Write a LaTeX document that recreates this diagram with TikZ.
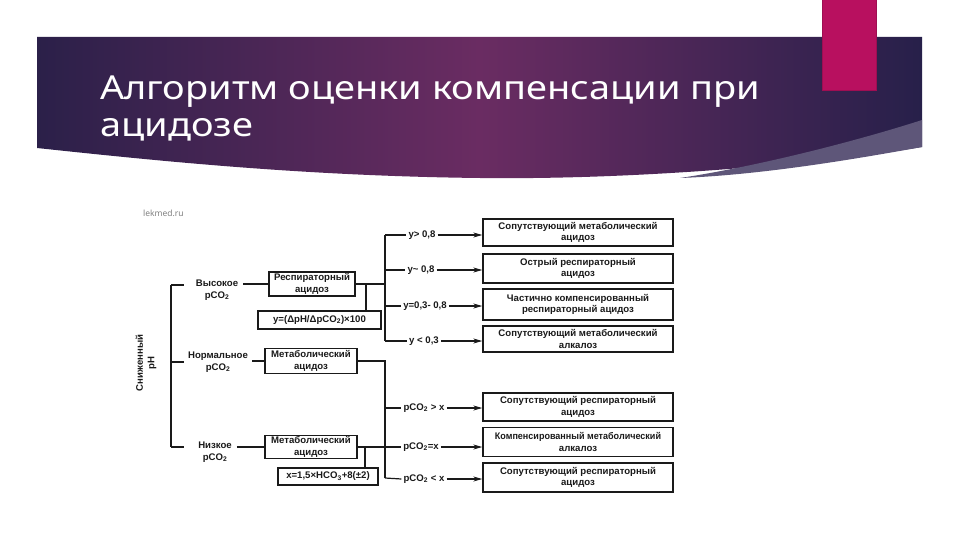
\documentclass[tikz,border=0pt]{standalone}
\usepackage{fontspec}
\setmainfont{Liberation Sans}
\newfontfamily\titlefont{Noto Sans}
\usetikzlibrary{arrows.meta}
\definecolor{bnL}{HTML}{2B2049}
\definecolor{bnM}{HTML}{6A2C62}
\definecolor{bnR}{HTML}{27204A}
\definecolor{bandc}{HTML}{5E5679}
\definecolor{pinkc}{HTML}{B8105F}
\definecolor{pinkd}{HTML}{9E0E52}
\definecolor{ink}{HTML}{1A1A1A}
\newcommand\dfs{\bfseries\fontsize{9.6}{11.4}\selectfont}
\tikzset{
  box/.style={draw=ink, line width=1.4pt, align=center, font=\dfs, text=ink, inner sep=1pt},
  lbl/.style={align=center, font=\dfs, text=ink, inner sep=2pt},
  conn/.style={draw=ink, line width=1.2pt},
  arr/.style={draw=ink, line width=1.1pt, -{Stealth[length=9pt,width=5pt]}},
}
\begin{document}
\begin{tikzpicture}[x=1pt,y=-1pt]
\useasboundingbox (0,0) rectangle (960,540);
\fill[white] (0,0) rectangle (960,540);
% banner
\path[left color=bnL, right color=bnR, middle color=bnM]
  (37,37) -- (922,37) -- (922,147)
  .. controls (830,162) and (650,180) .. (480,178)
  .. controls (300,176) and (150,160) .. (37,148) -- cycle;
\fill[bandc] (922,120) .. controls (860,140) and (760,166) .. (680,178)
  .. controls (760,175) and (850,160) .. (922,147) -- cycle;
\fill[pinkc] (822,0) rectangle (876,90);
\draw[pinkd, line width=0.8pt] (822,0) -- (822,90) -- (876,90) -- (876,0);
\node[anchor=base west, text=white, font=\titlefont\fontsize{33}{38}\selectfont, inner sep=0pt] (T1) at (100,100) {\scalebox{1.15}[1]{Алгоритм оценки компенсации при}};
\node[anchor=base west, text=white, font=\titlefont\fontsize{33}{38}\selectfont, inner sep=0pt] (T2) at (100,137) {\scalebox{1.15}[1]{ацидозе}};
\node[anchor=base west, text=gray, font=\titlefont\fontsize{8.5}{9}\selectfont, inner sep=0pt] (src) at (143,216) {lekmed.ru};

% left column
\node[lbl, rotate=90] (pH) at (146,363) {Сниженный\\pH};
\coordinate (mt) at (171,285);
\coordinate (mm) at (171,362);
\coordinate (mb) at (171,447);
\draw[conn] (mt) -- (mb);
\draw[conn] (mt) -- ++(13,0);
\draw[conn] (mm) -- ++(13,0);
\draw[conn] (mb) -- ++(13,0);
\node[lbl] (V) at (217,290) {Высокое\\pCO\textsubscript{2}};
\node[lbl] (N) at (218,362) {Нормальное\\pCO\textsubscript{2}};
\node[lbl] (Lo) at (215,452) {Низкое\\pCO\textsubscript{2}};

\node[box, minimum width=86pt, minimum height=24pt] (L1) at (312,284) {Респираторный\\ацидоз};
\node[box, minimum width=123pt, minimum height=18pt] (F1) at (319.5,320) {y=(ΔpH/ΔpCO\textsubscript{2})×100};
\node[box, minimum width=92pt, minimum height=25pt] (L2) at (311,361) {Метаболический\\ацидоз};
\node[box, minimum width=92pt, minimum height=23pt] (L3) at (311,447) {Метаболический\\ацидоз};
\node[box, minimum width=100pt, minimum height=17pt] (F2) at (328,476.5) {x=1,5×HCO\textsubscript{3}+8(±2)};

\draw[conn] ([xshift=3pt]V.east |- L1.west) -- (L1.west);
\draw[conn] ([xshift=2pt]N.east |- L2.west) -- (L2.west);
\draw[conn] ([xshift=3pt]Lo.east |- L3.west) -- (L3.west);

% right boxes
\node[box, minimum width=190pt, minimum height=27pt] (R1) at (578,232.5) {Сопутствующий метаболический\\ацидоз};
\node[box, minimum width=190pt, minimum height=29pt] (R2) at (578,268.5) {Острый респираторный\\ацидоз};
\node[box, minimum width=190pt, minimum height=31pt] (R3) at (578,304.5) {Частично компенсированный\\респираторный ацидоз};
\node[box, minimum width=190pt, minimum height=26pt] (R4) at (578,339) {Сопутствующий метаболический\\алкалоз};
\node[box, minimum width=190pt, minimum height=28pt] (R5) at (578,407) {Сопутствующий респираторный\\ацидоз};
\node[box, minimum width=190pt, minimum height=29pt] (R6) at (578,442) {\scalebox{0.94}[1]{Компенсированный метаболический}\\алкалоз};
\node[box, minimum width=190pt, minimum height=29pt] (R7) at (578,477.5) {Сопутствующий респираторный\\ацидоз};

% upper branch
\coordinate (k1) at (366,284);
\coordinate (ua) at (385,235);
\coordinate (ub) at (385,270);
\coordinate (uc) at (385,306);
\coordinate (ud) at (385,341);
\draw[conn] (L1.east) -- (ua |- L1.east);
\draw[conn] (ua) -- (ud);
\draw[conn] (k1) -- (k1 |- F1.north);
\node[lbl] (Ya) at (422,235) {y> 0,8};
\node[lbl] (Yb) at (421,270) {y\textasciitilde{} 0,8};
\node[lbl] (Yc) at (425,306) {y=0,3- 0,8};
\node[lbl] (Yd) at (424,341) {y < 0,3};
\draw[conn] (ua) -- (Ya.west);
\draw[conn] (ub) -- (Yb.west);
\draw[conn] (uc) -- (Yc.west);
\draw[conn] (ud) -- (Yd.west);
\draw[arr] (Ya.east) -- (R1.west |- Ya.east);
\draw[arr] (Yb.east) -- (R2.west |- Yb.east);
\draw[arr] (Yc.east) -- (R3.west |- Yc.east);
\draw[arr] (Yd.east) -- (R4.west |- Yd.east);

% lower branch
\coordinate (la) at (385,361);
\coordinate (lb) at (385,408);
\coordinate (lc) at (385,478);
\coordinate (k2) at (365,447);
\draw[conn] (L2.east) -- (la) -- (lc);
\draw[conn] (k2) -- (k2 |- F2.north);
\node[lbl] (P1) at (424,408) {pCO\textsubscript{2} > x};
\node[lbl] (P2) at (421,447) {pCO\textsubscript{2}=x};
\node[lbl] (P3) at (424,479) {pCO\textsubscript{2} < x};
\draw[conn] (lb) -- (P1.west);
\draw[conn] (L3.east) -- (P2.west);
\draw[conn] (lc) -- (P3.west);
\draw[arr] (P1.east) -- (R5.west |- P1.east);
\draw[arr] (P2.east) -- (R6.west |- P2.east);
\draw[arr] (P3.east) -- (R7.west |- P3.east);
\end{tikzpicture}
\end{document}
